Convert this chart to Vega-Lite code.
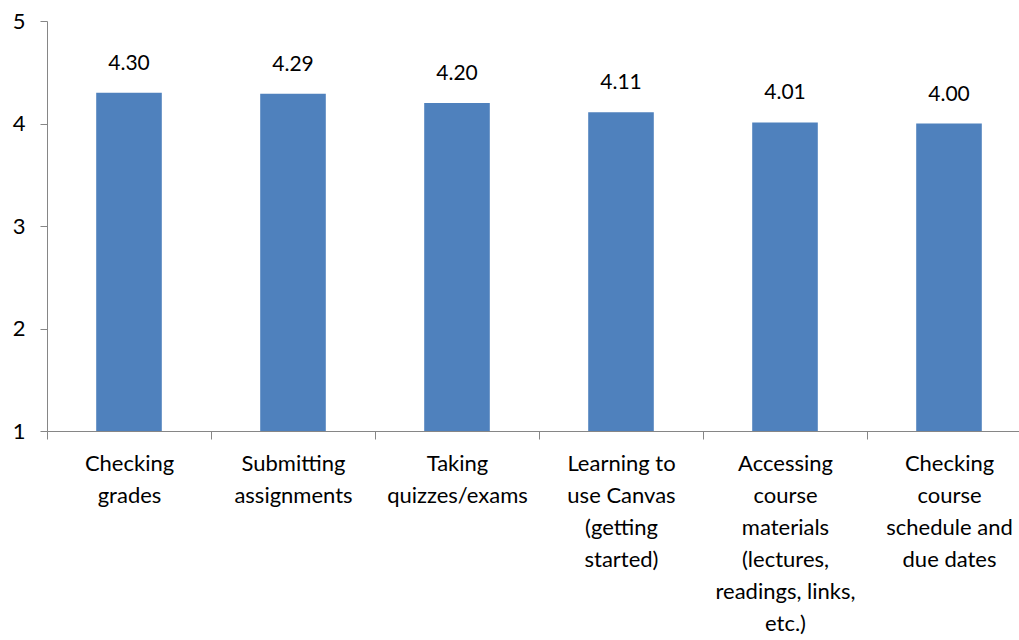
{
  "$schema": "https://vega.github.io/schema/vega-lite/v6.json",
  "autosize": "none",
  "width": 984,
  "height": 410,
  "padding": {"left": 47, "top": 21, "right": 0, "bottom": 209},
  "background": "white",
  "config": {"view": {"stroke": null}, "font": "Lato"},
  "data": {"values": [
    {"task": "Checking|grades", "value": 4.30},
    {"task": "Submitting|assignments", "value": 4.29},
    {"task": "Taking|quizzes/exams", "value": 4.20},
    {"task": "Learning to|use Canvas|(getting|started)", "value": 4.11},
    {"task": "Accessing|course|materials|(lectures,|readings, links,|etc.)", "value": 4.01},
    {"task": "Checking|course|schedule and|due dates", "value": 4.00}
  ]},
  "encoding": {
    "x": {"field": "task", "type": "nominal", "sort": null,
      "scale": {"paddingInner": 0, "paddingOuter": 0},
      "axis": {"title": null, "labelAngle": 0, "labelExpr": "isValid(datum.value) ? split(datum.value, '|') : ''",
        "labelFontSize": 22, "labelLineHeight": 32, "labelColor": "#000", "labelPadding": 14,
        "domainColor": "#868686", "tickColor": "#868686", "tickSize": 8, "tickBand": "extent",
        "labelFont": "Lato", "labelBaseline": "top"}},
    "y": {"field": "value", "type": "quantitative",
      "scale": {"domain": [1, 5], "zero": false},
      "axis": {"title": null, "values": [1, 2, 3, 4, 5], "format": "d", "grid": false,
        "labelFontSize": 22, "labelColor": "#000", "labelPadding": 15,
        "domainColor": "#868686", "tickColor": "#868686", "tickSize": 7, "labelFont": "Lato"}}
  },
  "layer": [
    {"mark": {"type": "bar", "color": "#4F81BD", "width": {"band": 0.4}}, "encoding": {"y2": {"datum": 1}}},
    {"mark": {"type": "text", "dy": -29, "fontSize": 21, "color": "#000", "font": "Lato"},
      "encoding": {"text": {"field": "value", "type": "quantitative", "format": ".2f"}}}
  ]
}
